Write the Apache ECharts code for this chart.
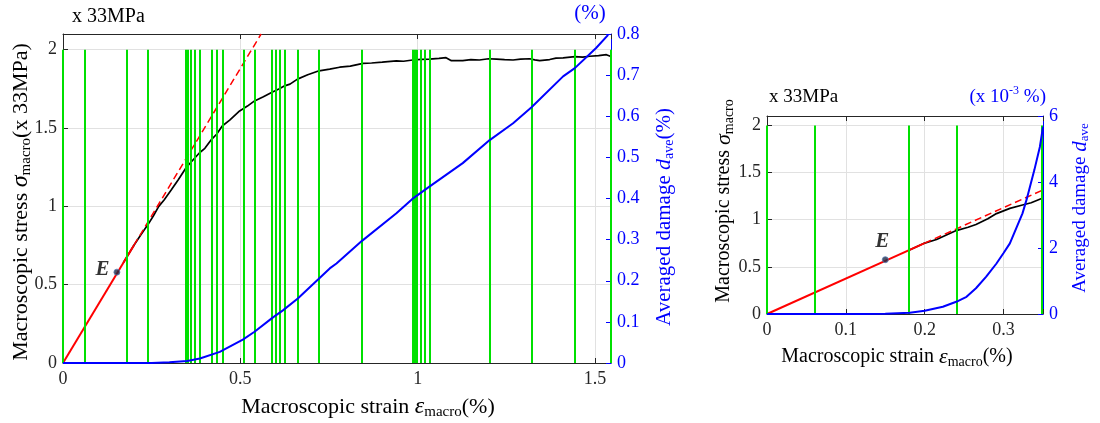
<!DOCTYPE html>
<html>
<head>
<meta charset="utf-8">
<script src="https://cdn.jsdelivr.net/npm/echarts@6/dist/echarts.min.js"></script>
<style>
  html, body { margin: 0; padding: 0; background: #fff; }
  #chart { width: 1100px; height: 423px; }
</style>
</head>
<body>
<div id="chart"></div>
<script>
// ---------------- DATA ----------------
// Left panel: full loading history
const leftStrain = [0.17, 0.2, 0.22, 0.24, 0.255, 0.27, 0.285, 0.306, 0.325, 0.347, 0.36, 0.385, 0.40, 0.419, 0.433, 0.449, 0.47, 0.498, 0.52, 0.54, 0.565, 0.588, 0.61, 0.625, 0.64, 0.661, 0.69, 0.722, 0.752, 0.78, 0.81, 0.846, 0.87, 0.90, 0.94, 0.96, 0.986, 1.01, 1.033, 1.06, 1.08, 1.095, 1.127, 1.15, 1.174, 1.2, 1.222, 1.245, 1.269, 1.29, 1.316, 1.33, 1.344, 1.372, 1.39, 1.41, 1.443, 1.465, 1.485, 1.51, 1.532, 1.543];
const leftStress = [0.64, 0.752, 0.82, 0.885, 0.94, 1.0, 1.04, 1.107, 1.17, 1.246, 1.28, 1.342, 1.37, 1.428, 1.46, 1.513, 1.55, 1.609, 1.64, 1.673, 1.70, 1.727, 1.75, 1.769, 1.78, 1.812, 1.84, 1.865, 1.876, 1.888, 1.895, 1.913, 1.915, 1.92, 1.928, 1.926, 1.934, 1.938, 1.94, 1.944, 1.949, 1.93, 1.93, 1.936, 1.934, 1.942, 1.94, 1.936, 1.934, 1.94, 1.942, 1.935, 1.93, 1.937, 1.946, 1.948, 1.955, 1.952, 1.958, 1.962, 1.968, 1.958];
const leftDamStrain = [0, 0.25, 0.30, 0.35, 0.386, 0.442, 0.507, 0.54, 0.592, 0.62, 0.662, 0.719, 0.752, 0.771, 0.843, 0.94, 0.985, 1.033, 1.127, 1.203, 1.269, 1.321, 1.41, 1.443, 1.503, 1.537];
const leftDamage    = [0, 0, 0.002, 0.005, 0.011, 0.027, 0.057, 0.076, 0.111, 0.128, 0.157, 0.203, 0.23, 0.242, 0.297, 0.364, 0.399, 0.429, 0.486, 0.542, 0.583, 0.622, 0.697, 0.717, 0.766, 0.798];
const leftGreen = [0, 0.06, 0.18, 0.24, 0.347, 0.353, 0.36, 0.371, 0.385, 0.419, 0.433, 0.449, 0.51, 0.54, 0.588, 0.60, 0.612, 0.625, 0.661, 0.722, 0.843, 0.985, 0.991, 0.998, 1.009, 1.021, 1.034, 1.203, 1.321, 1.443, 1.544];
const leftRedSolidX = [0, 0.2];
const leftRedSolidY = [0, 0.752];
const leftRedDashX = [0.2, 0.5585];
const leftRedDashY = [0.752, 2.1];
const leftE = [0.152, 0.58];

// Right panel: zoom on early stage
const rightStrain = [0.18, 0.2, 0.215, 0.24, 0.255, 0.265, 0.28, 0.291, 0.308, 0.324, 0.335, 0.349];
const rightStress = [0.677, 0.752, 0.79, 0.885, 0.92, 0.95, 1.01, 1.065, 1.12, 1.156, 1.18, 1.227];
const rightDamStrain = [0, 0.12, 0.15, 0.181, 0.2, 0.223, 0.24, 0.253, 0.265, 0.278, 0.291, 0.30, 0.308, 0.324, 0.329, 0.339, 0.346, 0.35];
const rightDamage    = [0, 0, 0.01, 0.04, 0.1, 0.22, 0.37, 0.52, 0.78, 1.13, 1.53, 1.85, 2.14, 3.05, 3.45, 4.36, 5.06, 5.67];
const rightGreen = [0, 0.06, 0.18, 0.24, 0.349];
const rightRedSolidX = [0, 0.2];
const rightRedSolidY = [0, 0.752];
const rightRedDashX = [0.2, 0.35];
const rightRedDashY = [0.752, 1.316];
const rightE = [0.15, 0.576];

// Tick definitions
const leftXTicks = { min: 0, max: 1.545, interval: 0.5 };
const leftYTicks = { min: 0, max: 2.1, interval: 0.5 };
const leftY2Ticks = { min: 0, max: 0.8, interval: 0.1 };
const rightXTicks = { min: 0, max: 0.35, interval: 0.1 };
const rightYTicks = { min: 0, max: 2.1, interval: 0.5 };
const rightY2Ticks = { min: 0, max: 6, interval: 2 };
const greenTop = 2;

// ---------------- STYLE ----------------
const FONT = 'Liberation Serif';
const AX = '#262626';
const GRIDC = '#e1e1e1';
const BLUE = '#0000ff';
const GREEN = '#00e000';
const RED = '#ff0000';

const zip = (a, b) => a.map((v, i) => [v, b[i]]);
const onTick = (iv) => (v) => {
  const k = v / iv;
  if (Math.abs(k - Math.round(k)) > 1e-6) return '';
  return String(+v.toFixed(4));
};

function xAxisBottom(grid, t) {
  return {
    gridIndex: grid, type: 'value', position: 'bottom', min: t.min, max: t.max, interval: t.interval,
    axisLine: { onZero: false, lineStyle: { color: AX, width: 1 } },
    axisTick: { inside: true, length: 5, lineStyle: { color: AX } },
    axisLabel: { color: AX, fontFamily: FONT, fontSize: 18, margin: 7, formatter: onTick(t.interval) },
    splitLine: { show: true, lineStyle: { color: GRIDC, width: 1 } }
  };
}
function xAxisTop(grid, t) {
  return {
    gridIndex: grid, type: 'value', position: 'top', min: t.min, max: t.max, interval: t.interval,
    axisLine: { onZero: false, lineStyle: { color: AX, width: 1 } },
    axisTick: { inside: true, length: 5, lineStyle: { color: AX } },
    axisLabel: { show: false },
    splitLine: { show: false }
  };
}
function yAxisLeft(grid, t) {
  return {
    gridIndex: grid, type: 'value', position: 'left', min: t.min, max: t.max, interval: t.interval,
    axisLine: { show: true, onZero: false, lineStyle: { color: AX, width: 1 } },
    axisTick: { show: true, inside: true, length: 5, lineStyle: { color: AX } },
    axisLabel: { color: AX, fontFamily: FONT, fontSize: 18, margin: 6, formatter: onTick(t.interval) },
    splitLine: { show: true, lineStyle: { color: GRIDC, width: 1 } }
  };
}
function yAxisRight(grid, t) {
  return {
    gridIndex: grid, type: 'value', position: 'right', min: t.min, max: t.max, interval: t.interval,
    axisLine: { show: true, onZero: false, lineStyle: { color: BLUE, width: 1 } },
    axisTick: { show: true, inside: true, length: 5, lineStyle: { color: BLUE } },
    axisLabel: { color: BLUE, fontFamily: FONT, fontSize: 18, margin: 6, formatter: onTick(t.interval) },
    splitLine: { show: false }
  };
}

function greenSeries(xi, yi, xs) {
  return {
    type: 'line', xAxisIndex: xi, yAxisIndex: yi, z: 1, clip: false,
    data: [[0, 0]], showSymbol: false, symbol: 'none', lineStyle: { width: 0 }, silent: true,
    markLine: {
      silent: true, symbol: ['none', 'none'], animation: false,
      label: { show: false },
      lineStyle: { color: GREEN, width: 2, type: 'solid' },
      emphasis: { disabled: true },
      data: xs.map(x => [{ coord: [x, 0] }, { coord: [x, greenTop] }])
    }
  };
}
function lineSeries(xi, yi, xs, ys, color, width, type, z) {
  return {
    type: 'line', xAxisIndex: xi, yAxisIndex: yi, z: z,
    data: zip(xs, ys), showSymbol: false, symbol: 'none', smooth: false,
    lineStyle: { color: color, width: width, type: type, cap: 'butt' },
    emphasis: { disabled: true }, silent: true
  };
}
function eSeries(xi, yi, pt, pos, offset) {
  return {
    type: 'scatter', xAxisIndex: xi, yAxisIndex: yi, z: 6,
    data: [pt], symbol: 'circle', symbolSize: 6,
    itemStyle: { color: '#1d2b45', borderColor: '#5b7bb0', borderWidth: 1 },
    label: {
      show: true, formatter: 'E', position: pos, distance: 4, offset: offset,
      fontFamily: FONT, fontStyle: 'italic', fontWeight: 'bold', fontSize: 21, color: '#000'
    },
    silent: true
  };
}

function rt(obj) { return Object.assign({ fontFamily: FONT }, obj); }

const option = {
  animation: false,
  backgroundColor: '#fff',
  grid: [
    { left: 63, top: 34, width: 548, height: 329, containLabel: false, outerBoundsMode: 'none' },
    { left: 767, top: 116, width: 276, height: 198, containLabel: false, outerBoundsMode: 'none' }
  ],
  xAxis: [
    xAxisBottom(0, leftXTicks), xAxisTop(0, leftXTicks),
    xAxisBottom(1, rightXTicks), xAxisTop(1, rightXTicks)
  ],
  yAxis: [
    yAxisLeft(0, leftYTicks), yAxisRight(0, leftY2Ticks),
    yAxisLeft(1, rightYTicks), yAxisRight(1, rightY2Ticks)
  ],
  series: [
    greenSeries(0, 0, leftGreen),
    lineSeries(0, 0, leftStrain, leftStress, '#000', 1.7, 'solid', 3),
    lineSeries(0, 0, leftRedSolidX, leftRedSolidY, RED, 2, 'solid', 4),
    lineSeries(0, 0, leftRedDashX, leftRedDashY, RED, 1.5, [7, 4], 4),
    lineSeries(0, 1, leftDamStrain, leftDamage, BLUE, 2, 'solid', 5),
    eSeries(0, 0, leftE, 'left', [0, -3]),

    greenSeries(2, 2, rightGreen),
    lineSeries(2, 2, rightStrain, rightStress, '#000', 1.7, 'solid', 3),
    lineSeries(2, 2, rightRedSolidX, rightRedSolidY, RED, 2, 'solid', 4),
    lineSeries(2, 2, rightRedDashX, rightRedDashY, RED, 1.5, [7, 4], 4),
    lineSeries(2, 3, rightDamStrain, rightDamage, BLUE, 2, 'solid', 5),
    eSeries(2, 2, rightE, 'top', [-3, 0])
  ],
  graphic: [
    { type: 'text', x: 72, y: 17, style: { text: 'x 33MPa', fill: '#000', font: '20px "Liberation Serif"', align: 'left', verticalAlign: 'middle' } },
    { type: 'text', x: 590, y: 13, style: { text: '(%)', fill: BLUE, font: '21px "Liberation Serif"', align: 'center', verticalAlign: 'middle' } },
    { type: 'text', x: 769, y: 97, style: { text: 'x 33MPa', fill: '#000', font: '19px "Liberation Serif"', align: 'left', verticalAlign: 'middle' } },
    { type: 'text', x: 1046, y: 97, style: {
        text: '{n|(x 10}{p|-3}{n| %)}', fill: BLUE, align: 'right', verticalAlign: 'middle',
        rich: { n: rt({ fontSize: 19, lineHeight: 24, fill: BLUE }), p: rt({ fontSize: 12, lineHeight: 12, verticalAlign: 'top', fill: BLUE }) } } },
    // left panel y titles
    { type: 'text', x: 21, y: 202, rotation: Math.PI / 2, style: {
        text: '{n|Macroscopic stress }{i|σ}{s|macro}{n|(x 33MPa)}', fill: '#000', align: 'center', verticalAlign: 'middle',
        rich: { n: rt({ fontSize: 22, lineHeight: 26, fill: '#000' }), i: rt({ fontSize: 24, lineHeight: 26, fontStyle: 'italic', fill: '#000' }), s: rt({ fontSize: 15, lineHeight: 15, verticalAlign: 'bottom', fill: '#000' }) } } },
    { type: 'text', x: 664, y: 217, rotation: Math.PI / 2, style: {
        text: '{n|Averaged damage }{i|d}{s|ave}{n|(%)}', fill: BLUE, align: 'center', verticalAlign: 'middle',
        rich: { n: rt({ fontSize: 21, lineHeight: 25, fill: BLUE }), i: rt({ fontSize: 22, lineHeight: 25, fontStyle: 'italic', fill: BLUE }), s: rt({ fontSize: 14, lineHeight: 14, verticalAlign: 'bottom', fill: BLUE }) } } },
    // right panel y titles
    { type: 'text', x: 724, y: 201, rotation: Math.PI / 2, style: {
        text: '{n|Macroscopic stress }{i|σ}{s|macro}', fill: '#000', align: 'center', verticalAlign: 'middle',
        rich: { n: rt({ fontSize: 20, lineHeight: 24, fill: '#000' }), i: rt({ fontSize: 22, lineHeight: 24, fontStyle: 'italic', fill: '#000' }), s: rt({ fontSize: 14, lineHeight: 14, verticalAlign: 'bottom', fill: '#000' }) } } },
    { type: 'text', x: 1080, y: 208, rotation: Math.PI / 2, style: {
        text: '{n|Averaged damage }{i|d}{s|ave}', fill: BLUE, align: 'center', verticalAlign: 'middle',
        rich: { n: rt({ fontSize: 19, lineHeight: 23, fill: BLUE }), i: rt({ fontSize: 21, lineHeight: 23, fontStyle: 'italic', fill: BLUE }), s: rt({ fontSize: 13, lineHeight: 13, verticalAlign: 'bottom', fill: BLUE }) } } },
    // x titles
    { type: 'text', x: 368, y: 407, style: {
        text: '{n|Macroscopic strain }{i|ε}{s|macro}{n|(%)}', fill: '#000', align: 'center', verticalAlign: 'middle',
        rich: { n: rt({ fontSize: 22, lineHeight: 26, fill: '#000' }), i: rt({ fontSize: 24, lineHeight: 26, fontStyle: 'italic', fill: '#000' }), s: rt({ fontSize: 15, lineHeight: 15, verticalAlign: 'bottom', fill: '#000' }) } } },
    { type: 'text', x: 897, y: 357, style: {
        text: '{n|Macroscopic strain }{i|ε}{s|macro}{n|(%)}', fill: '#000', align: 'center', verticalAlign: 'middle',
        rich: { n: rt({ fontSize: 20, lineHeight: 24, fill: '#000' }), i: rt({ fontSize: 22, lineHeight: 24, fontStyle: 'italic', fill: '#000' }), s: rt({ fontSize: 14, lineHeight: 14, verticalAlign: 'bottom', fill: '#000' }) } } }
  ]
};

const chart = echarts.init(document.getElementById('chart'), null, { renderer: 'canvas' });
chart.setOption(option);
</script>
</body>
</html>
